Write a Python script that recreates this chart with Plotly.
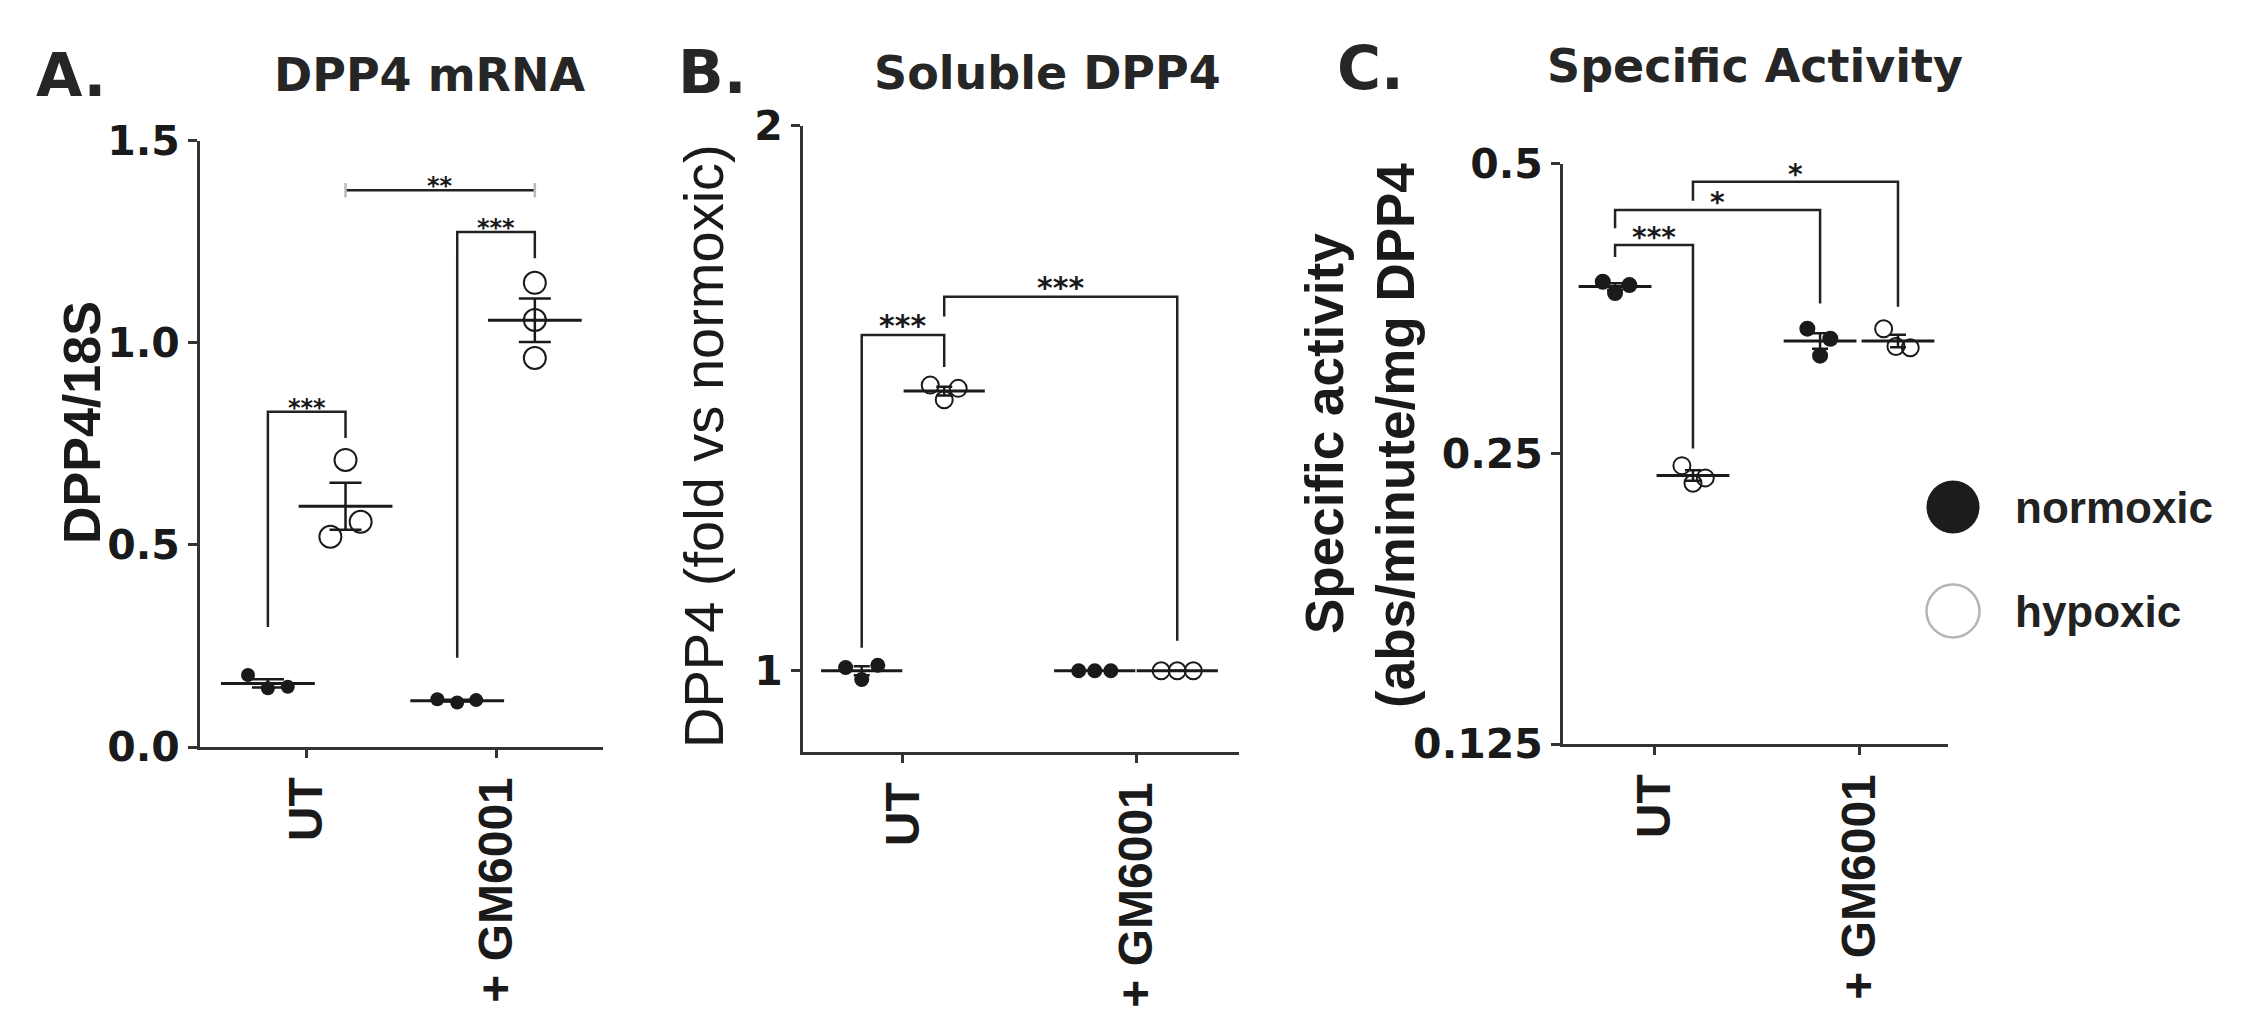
import numpy as np
import plotly.graph_objects as go

W, H = 2248, 1036

CATEGORIES = ["UT", "+ GM6001"]

# A. DPP4 mRNA (DPP4/18S)
mrna_ut_norm = [0.178, 0.145, 0.149]
mrna_ut_hyp = [0.520, 0.710, 0.557]
mrna_gm_norm = [0.118, 0.110, 0.116]
mrna_gm_hyp = [1.148, 1.056, 0.962]

# B. Soluble DPP4 (fold vs normoxic)
sol_ut_norm = [1.006, 0.984, 1.010]
sol_ut_hyp = [1.524, 1.497, 1.518]
sol_gm_norm = [1.0, 1.0, 1.0]
sol_gm_hyp = [1.0, 1.0, 1.0]

# C. Specific activity (abs/minute/mg DPP4)
act_ut_norm = [0.377, 0.367, 0.374]
act_ut_hyp = [0.243, 0.233, 0.236]
act_gm_norm = [0.337, 0.329, 0.316]
act_gm_hyp = [0.337, 0.323, 0.322]

# significance brackets: ((cat, cond), (cat, cond), left foot, top, right foot, label)
brackets_a = [((0, 0), (0, 1), 0.297, 0.829, 0.764, "***"),
              ((1, 0), (1, 1), 0.221, 1.274, 1.209, "***"),
              ((0, 1), (1, 1), 1.377, 1.377, 1.377, "**")]
brackets_b = [((0, 0), (0, 1), 1.042, 1.616, 1.557, "***"),
              ((0, 1), (1, 1), 1.650, 1.686, 1.055, "***")]
brackets_c = [((0, 0), (0, 1), 0.400, 0.4116, 0.2532, "***"),
              ((0, 0), (1, 0), 0.4283, 0.4474, 0.3579, "*"),
              ((0, 1), (1, 1), 0.4574, 0.4787, 0.3551, "*")]

# the page body adds an 8px offset, so layout positions are shifted back by it
PAGE_PAD = 8


def px(x):
    return (x - PAGE_PAD) / W


def py(y):
    return 1 - (y - PAGE_PAD) / H


DARK = "#1a1a1a"
AXIS = "#333333"
YTICK_FONT = dict(family="DejaVu Sans", size=41, color=DARK, weight="bold")
XTICK_FONT = dict(family="Liberation Sans, Arial", size=48, color=DARK, weight="bold")
TITLE_FONT = dict(family="DejaVu Sans", size=46, color="#262626", weight="bold")
LETTER_FONT = dict(family="DejaVu Sans", size=60, color="#262626", weight="bold")
STAR_FONT = "DejaVu Sans"

panels = [
    dict(xa="x", ya="y", data=[[mrna_ut_norm, mrna_ut_hyp], [mrna_gm_norm, mrna_gm_hyp]],
         jitter=[[[-0.105, 0, 0.105], [-0.08, 0, 0.08]], [[-0.105, 0, 0.10], [0, 0, 0]]],
         offset=0.205, filled=14, hollow=22, meanw=67, capw=16, brackets=brackets_a,
         star_size=24, star_shift=-12, log=False),
    dict(xa="x2", ya="y2", data=[[sol_ut_norm, sol_ut_hyp], [sol_gm_norm, sol_gm_hyp]],
         jitter=[[[-0.069, 0, 0.069], [-0.06, 0, 0.06]], [[-0.069, 0, 0.069], [-0.069, 0, 0.069]]],
         offset=0.177, filled=15, hollow=17, meanw=58, capw=8, brackets=brackets_b,
         star_size=30, star_shift=-10, log=False),
    dict(xa="x3", ya="y3", data=[[act_ut_norm, act_ut_hyp], [act_gm_norm, act_gm_hyp]],
         jitter=[[[-0.06, 0, 0.07], [-0.054, 0, 0.06]], [[-0.062, 0.05, 0], [-0.07, -0.01, 0.06]]],
         offset=0.19, filled=16, hollow=17, meanw=52, capw=8, brackets=brackets_c,
         star_size=28, star_shift=-11, log=True),
]

fig = go.Figure()
annotations = []

for p in panels:
    def gx(g):
        cat, cond = g
        return cat + 1 + (p["offset"] if cond == 1 else -p["offset"])

    for ci, cat_data in enumerate(p["data"]):
        for k, vals in enumerate(cat_data):
            xc = gx((ci, k))
            xs = [xc + j for j in p["jitter"][ci][k]]
            if k == 0:
                marker = dict(symbol="circle", size=p["filled"], color=DARK)
            else:
                marker = dict(symbol="circle-open", size=p["hollow"], color=DARK,
                              line=dict(width=2, color=DARK))
            fig.add_trace(go.Scatter(x=xs, y=vals, mode="markers", marker=marker,
                                     xaxis=p["xa"], yaxis=p["ya"], showlegend=False,
                                     hoverinfo="y"))
            arr = np.array(vals)
            mean = arr.mean()
            sem = arr.std(ddof=1) / np.sqrt(len(arr))
            fig.add_trace(go.Scatter(
                x=[xc], y=[mean], mode="markers",
                marker=dict(symbol="line-ew", size=p["meanw"], color=DARK,
                            line=dict(width=3, color=DARK)),
                error_y=dict(type="data", array=[sem], visible=True, color=DARK,
                             thickness=2.5, width=p["capw"]),
                xaxis=p["xa"], yaxis=p["ya"], showlegend=False, hoverinfo="skip"))

    bx, by, capx, capy = [], [], [], []
    for g0, g1, yl, yt, yr, label in p["brackets"]:
        x0, x1 = gx(g0), gx(g1)
        bx += [x0, x0, x1, x1, None]
        by += [yl, yt, yt, yr, None]
        if yl == yt == yr:
            d = 0.018
            capx += [x0, x0, None, x1, x1, None]
            capy += [yt - d, yt + d, None, yt - d, yt + d, None]
        ystar = np.log10(yt) if p["log"] else yt
        annotations.append(dict(
            x=(x0 + x1) / 2, y=ystar, xref=p["xa"], yref=p["ya"], text=label,
            showarrow=False, yanchor="bottom", yshift=p["star_shift"],
            font=dict(family=STAR_FONT, size=p["star_size"], color=DARK, weight="bold")))
    fig.add_trace(go.Scatter(x=bx, y=by, mode="lines", line=dict(color="#222", width=2.5),
                             xaxis=p["xa"], yaxis=p["ya"], showlegend=False, hoverinfo="skip"))
    if capx:
        fig.add_trace(go.Scatter(x=capx, y=capy, mode="lines", line=dict(color="#bbbbbb", width=2.5),
                                 xaxis=p["xa"], yaxis=p["ya"], showlegend=False, hoverinfo="skip"))

# legend key (drawn on a hidden pixel-scaled axis)
fig.add_trace(go.Scatter(x=[1953], y=[507], mode="markers", xaxis="x4", yaxis="y4",
                         marker=dict(symbol="circle", size=53, color="#1c1c1c"),
                         showlegend=False, hoverinfo="skip"))
fig.add_trace(go.Scatter(x=[1953], y=[611], mode="markers", xaxis="x4", yaxis="y4",
                         marker=dict(symbol="circle-open", size=53, color="#b5b5b5",
                                     line=dict(width=2.5, color="#b5b5b5")),
                         showlegend=False, hoverinfo="skip"))
LEGEND_FONT = dict(family="Liberation Sans, Arial", size=44, color="#222", weight="bold")
annotations.append(dict(x=2013, y=507, xref="x4", yref="y4", text="normoxic", showarrow=False,
                        xanchor="left", yanchor="middle", font=LEGEND_FONT))
annotations.append(dict(x=2013, y=611, xref="x4", yref="y4", text="hypoxic", showarrow=False,
                        xanchor="left", yanchor="middle", font=LEGEND_FONT))

# panel letters, titles, y-axis titles
texts = [
    ("A.", 71, 75, LETTER_FONT, 0), ("DPP4 mRNA", 429, 75, TITLE_FONT, 0),
    ("B.", 712, 72, LETTER_FONT, 0), ("Soluble DPP4", 1047, 73, TITLE_FONT, 0),
    ("C.", 1370, 68, LETTER_FONT, 0), ("Specific Activity", 1755, 66, TITLE_FONT, 0),
    ("DPP4/18S", 82, 423, dict(family="Liberation Sans, Arial", size=52, color=DARK, weight="bold"), -90),
    ("DPP4 (fold vs normoxic)", 704, 446, dict(family="Liberation Sans, Arial", size=56, color=DARK), -90),
    ("Specific activity", 1325, 434, dict(family="Liberation Sans, Arial", size=53, color=DARK, weight="bold"), -90),
    ("(abs/minute/mg DPP4", 1395, 436, dict(family="Liberation Sans, Arial", size=53, color=DARK, weight="bold"), -90),
]
for t, x, y, f, ang in texts:
    annotations.append(dict(x=px(x), y=py(y), xref="paper", yref="paper", text=t, showarrow=False,
                            xanchor="center", yanchor="middle", textangle=ang, font=f))


def xaxis_style(x0, x1, rng, anchor):
    return dict(domain=[px(x0), px(x1)], range=rng, anchor=anchor, showline=True, linewidth=3,
                linecolor=AXIS, showgrid=False, zeroline=False, ticks="outside", ticklen=8,
                tickwidth=2.5, tickcolor=AXIS, tickvals=[1, 2], ticktext=CATEGORIES,
                tickangle=-90, tickfont=XTICK_FONT, fixedrange=True, automargin=False)


def yaxis_style(y0, y1, rng, vals, txt, anchor, typ="linear"):
    return dict(domain=[py(y0), py(y1)], range=rng, anchor=anchor, type=typ, showline=True,
                linewidth=3, linecolor=AXIS, showgrid=False, zeroline=False, ticks="outside",
                ticklen=9, tickwidth=2.5, tickcolor=AXIS, tickvals=vals, ticktext=txt,
                tickfont=YTICK_FONT, fixedrange=True, automargin=False)


fig.update_layout(
    width=W, height=H, autosize=False,
    margin=dict(l=0, r=0, t=0, b=0, pad=0, autoexpand=False),
    paper_bgcolor="white", plot_bgcolor="white", showlegend=False,
    xaxis=xaxis_style(200, 603, [0.4364, 2.565], "y"),
    yaxis=yaxis_style(747, 140.5, [0, 1.5], [0, 0.5, 1, 1.5], ["0.0", "0.5", "1.0", "1.5"], "x"),
    xaxis2=xaxis_style(803, 1239, [0.571, 2.442], "y2"),
    yaxis2=yaxis_style(752, 125.6, [0.851, 2], [1, 2], ["1", "2"], "x2"),
    xaxis3=xaxis_style(1563, 1948, [0.556, 2.434], "y3"),
    yaxis3=yaxis_style(744, 163.5, [np.log10(0.125), np.log10(0.5)], [0.125, 0.25, 0.5],
                       ["0.125", "0.25", "0.5"], "x3", typ="log"),
    xaxis4=dict(domain=[px(1900), px(2240)], range=[1900, 2240], visible=False, anchor="y4"),
    yaxis4=dict(domain=[py(700), py(400)], range=[700, 400], visible=False, anchor="x4"),
    annotations=annotations,
)

fig.write_html("out.html")
